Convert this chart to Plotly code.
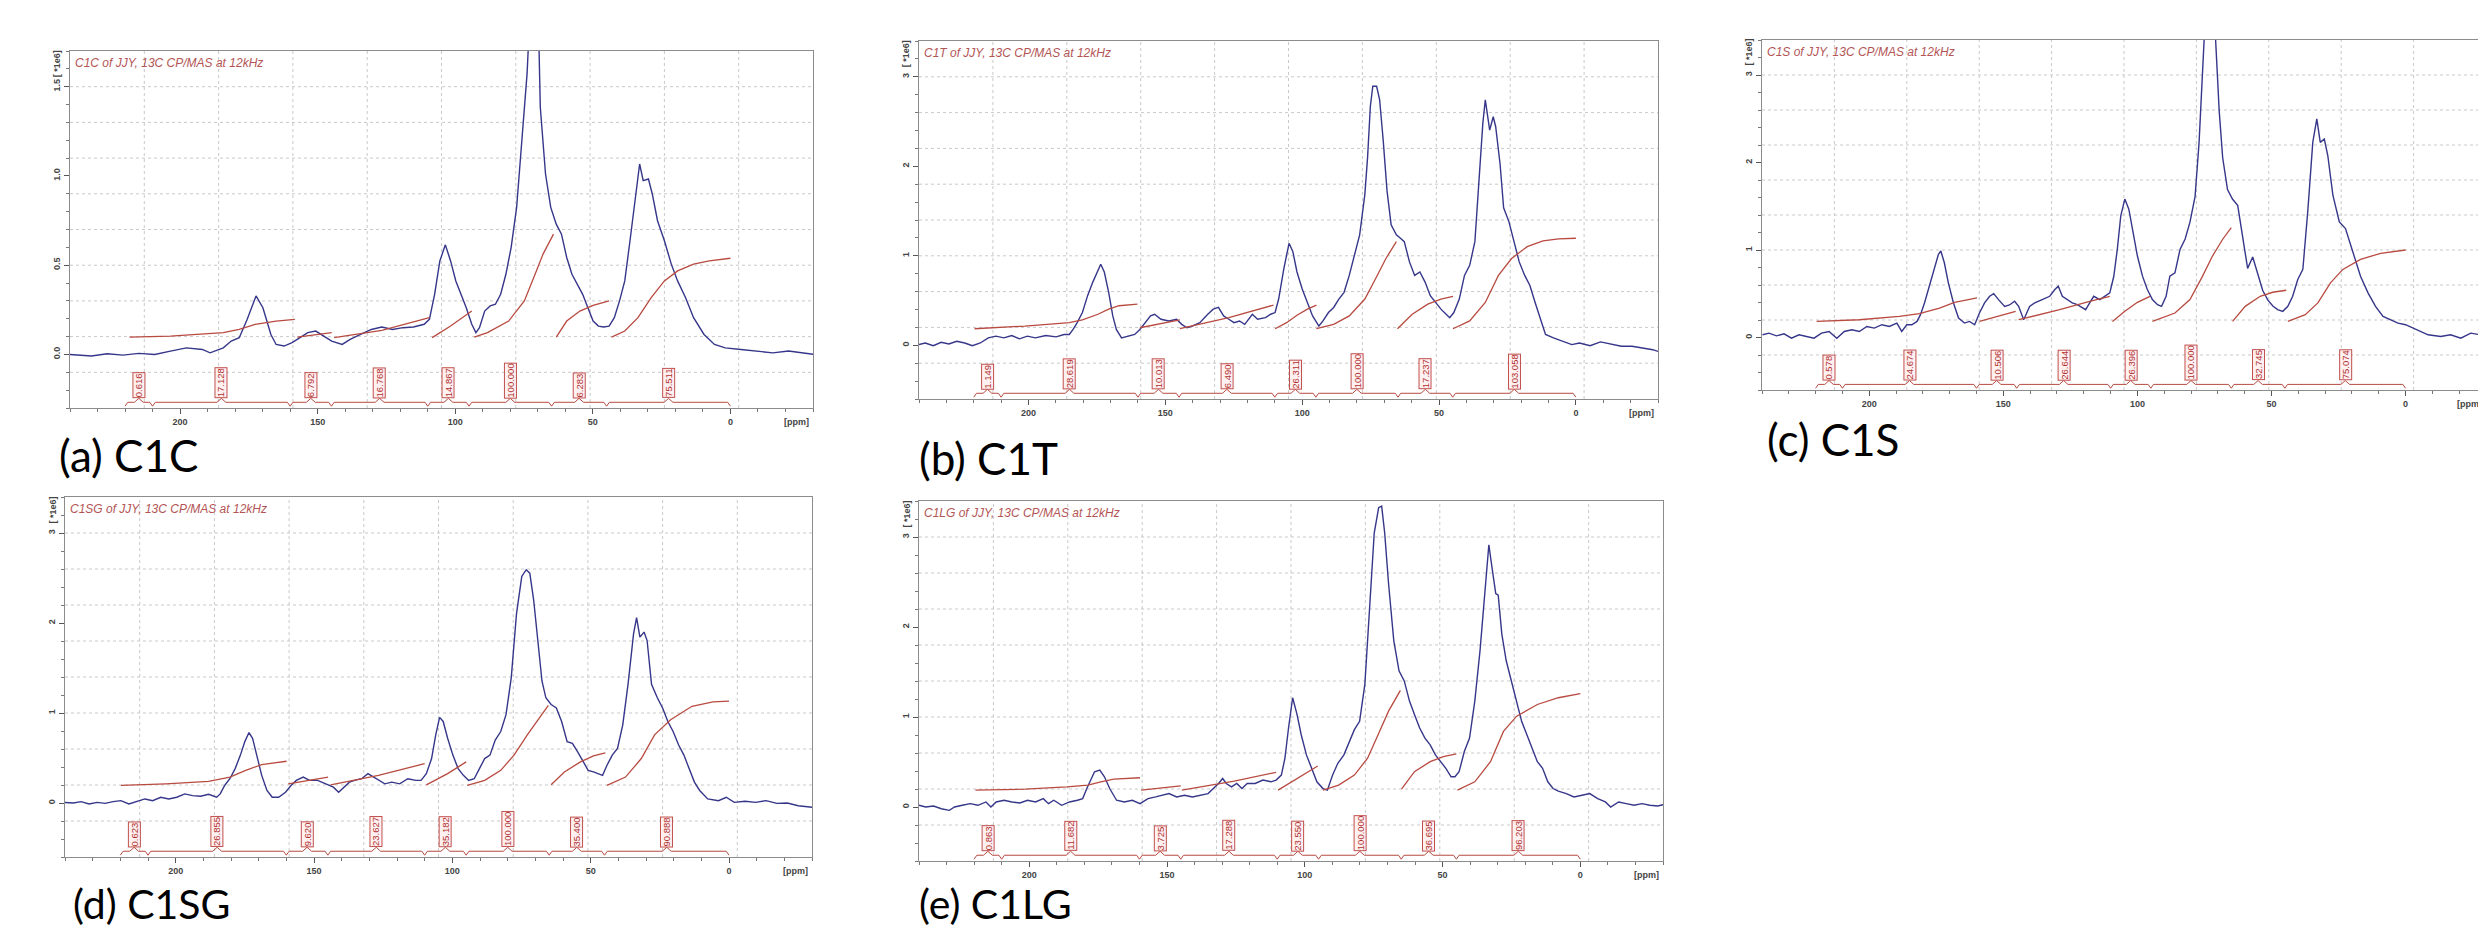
import plotly.graph_objects as go

W, H = 2486, 926
X_RANGE = [240, -30]
REGION_BOUNDS = [220, 210, 160, 145, 110, 95, 65, 45, 0]

# ---------------- (a) C1C ----------------
A_PPM = [240.0, 232.2, 226.5, 220.7, 215.0, 209.2, 203.5, 197.7, 191.9, 189.1, 184.3, 181.4, 178.5, 175.6, 172.4,
         169.9, 167.0, 165.1, 162.2, 159.3, 156.4, 153.6, 150.7, 147.8, 144.9, 141.1, 138.2, 134.4, 130.5, 126.7,
         122.8, 119.0, 115.2, 111.3, 109.4, 107.5, 105.6, 103.6, 101.7, 99.8, 97.9, 96.0, 94.0, 92.5, 91.2, 89.3,
         87.3, 85.4, 83.5, 81.6, 79.7, 77.7, 75.8, 73.9, 72.0, 70.1, 69.1, 67.2, 65.3, 63.3, 61.4, 59.5, 57.6, 55.7,
         53.7, 51.8, 49.9, 48.0, 46.1, 44.1, 42.2, 40.3, 38.4, 36.5, 34.5, 33.0, 31.7, 29.8, 28.4, 26.5, 24.0, 21.5,
         19.2, 16.3, 13.4, 9.6, 5.8, 1.9, -3.8, -9.6, -15.4, -21.1, -26.9, -30.7]
A_INT = [0.000, -0.009, 0.004, -0.004, 0.006, 0.000, 0.019, 0.037, 0.028, 0.009, 0.037, 0.075, 0.094, 0.197, 0.328,
         0.262, 0.112, 0.056, 0.047, 0.066, 0.094, 0.122, 0.131, 0.103, 0.075, 0.056, 0.084, 0.112, 0.140, 0.154,
         0.140, 0.150, 0.154, 0.169, 0.197, 0.337, 0.524, 0.614, 0.524, 0.412, 0.337, 0.262, 0.169, 0.122, 0.150,
         0.243, 0.272, 0.281, 0.337, 0.449, 0.599, 0.824, 1.199, 1.573, 2.200, 2.100, 1.386, 1.011, 0.824, 0.730,
         0.674, 0.543, 0.449, 0.393, 0.337, 0.262, 0.187, 0.159, 0.154, 0.159, 0.206, 0.300, 0.412, 0.637, 0.899,
         1.067, 0.974, 0.983, 0.899, 0.749, 0.637, 0.506, 0.412, 0.318, 0.206, 0.112, 0.056, 0.037, 0.028, 0.019,
         0.009, 0.019, 0.009, 0.000]
A_IG_PPM = [[218.4, 203.5, 184.3, 178.5, 172.7, 168.9, 165.1, 158.3],
            [157.4, 144.9],
            [144.0, 126.7, 109.4],
            [108.4, 101.7, 94.0],
            [93.1, 88.3, 80.6, 74.9, 71.0, 68.1, 64.3],
            [63.3, 59.5, 54.7, 49.9, 44.1],
            [43.2, 38.4, 33.6, 28.8, 24.0, 19.2, 13.4, 7.7, 0.0]]
A_IG_VAL = [[0.097, 0.103, 0.122, 0.140, 0.169, 0.178, 0.187, 0.197],
            [0.097, 0.122],
            [0.094, 0.135, 0.206],
            [0.094, 0.159, 0.243],
            [0.097, 0.122, 0.187, 0.300, 0.449, 0.562, 0.674],
            [0.097, 0.187, 0.243, 0.275, 0.300],
            [0.097, 0.131, 0.206, 0.318, 0.412, 0.468, 0.506, 0.524, 0.539]]
A_LABELS = ["0.616", "17.128", "6.792", "16.768", "14.867", "100.000", "6.283", "75.511"]

# ---------------- (b) C1T ----------------
B_PPM = [240.2, 237.7, 234.8, 231.9, 229.1, 226.2, 223.3, 220.5, 217.6, 214.7,
         211.9, 209.0, 206.1, 203.3, 200.4, 197.5, 193.7, 189.9, 187.0, 185.1,
         183.7, 182.2, 180.3, 178.4, 176.5, 175.0, 173.6, 172.3, 170.7, 169.2,
         167.9, 166.0, 163.1, 161.2, 159.3, 157.4, 155.4, 153.9, 151.6, 148.7,
         145.9, 144.0, 142.1, 140.2, 137.4, 134.5, 132.5, 130.6, 128.7, 126.8,
         124.9, 122.9, 121.0, 118.2, 116.3, 113.4, 111.5, 109.9, 108.6, 106.7,
         104.8, 103.4, 101.9, 100.0, 98.1, 96.2, 93.9, 92.4, 90.4, 88.5,
         86.6, 84.7, 82.8, 80.9, 79.0, 77.1, 76.1, 75.1, 74.2, 72.8,
         71.7, 70.4, 69.0, 67.5, 65.6, 64.1, 62.7, 60.8, 58.9, 57.0,
         55.1, 53.2, 51.2, 49.3, 47.4, 46.1, 44.6, 42.6, 40.7, 38.8,
         36.9, 35.4, 34.0, 33.1, 32.1, 31.5, 30.2, 29.3, 27.7, 26.4,
         24.5, 22.6, 20.7, 18.7, 16.8, 14.9, 13.0, 11.1, 8.2, 4.4,
         1.5, -1.3, -5.2, -9.0, -12.8, -16.6, -20.5, -24.3, -28.1, -30.0]
B_INT = [0.008, 0.026, -0.004, 0.034, 0.015, 0.045, 0.026, -0.004, 0.026, 0.083,
         0.102, 0.083, 0.109, 0.072, 0.102, 0.083, 0.109, 0.094, 0.121, 0.121,
         0.177, 0.253, 0.366, 0.555, 0.706, 0.819, 0.906, 0.819, 0.592, 0.328,
         0.177, 0.083, 0.102, 0.121, 0.177, 0.253, 0.328, 0.347, 0.291, 0.272,
         0.291, 0.234, 0.196, 0.215, 0.253, 0.347, 0.404, 0.423, 0.328, 0.291,
         0.253, 0.272, 0.234, 0.347, 0.291, 0.309, 0.347, 0.366, 0.517, 0.857,
         1.140, 1.045, 0.819, 0.630, 0.479, 0.328, 0.215, 0.272, 0.366, 0.423,
         0.517, 0.592, 0.781, 1.007, 1.234, 1.687, 2.102, 2.668, 2.894, 2.894,
         2.743, 2.291, 1.725, 1.347, 1.234, 1.196, 1.158, 0.932, 0.781, 0.819,
         0.706, 0.555, 0.479, 0.404, 0.347, 0.309, 0.366, 0.517, 0.781, 0.894,
         1.158, 1.913, 2.479, 2.743, 2.554, 2.404, 2.554, 2.442, 2.026, 1.536,
         1.385, 1.158, 0.932, 0.781, 0.668, 0.479, 0.291, 0.121, 0.083, 0.045,
         0.008, 0.026, -0.004, 0.038, 0.015, -0.011, -0.011, -0.030, -0.049, -0.068]
B_IG_PPM = [[219.7, 201.3, 185.1, 180.3, 174.6, 170.7, 166.9, 160.2],
            [159.3, 144.7],
            [144.7, 126.8, 110.5],
            [109.9, 105.7, 101.9, 98.1, 94.8],
            [94.8, 88.5, 82.8, 77.1, 73.2, 69.4, 65.6],
            [65.2, 59.8, 54.1, 49.3, 44.9],
            [44.9, 38.8, 33.1, 28.3, 23.5, 17.8, 12.0, 6.3, 0.0]]
B_IG_VAL = [[0.185, 0.215, 0.253, 0.283, 0.347, 0.404, 0.442, 0.460],
            [0.196, 0.283],
            [0.185, 0.309, 0.449],
            [0.185, 0.253, 0.336, 0.404, 0.449],
            [0.185, 0.234, 0.328, 0.517, 0.743, 0.970, 1.158],
            [0.185, 0.347, 0.460, 0.517, 0.547],
            [0.185, 0.272, 0.479, 0.781, 0.970, 1.102, 1.166, 1.189, 1.196]]
B_LABELS = ["1.149", "28.619", "10.013", "6.490", "26.311", "100.000", "17.237", "103.058"]

# ---------------- (c) C1S ----------------
C_PPM = [239.8, 237.4, 234.6, 231.8, 229.0, 226.2, 223.4, 220.6, 217.8, 215.0,
         212.1, 209.3, 206.5, 203.7, 200.9, 198.1, 195.3, 192.5, 189.7, 187.9,
         186.0, 184.1, 182.2, 180.9, 179.4, 177.6, 175.7, 174.2, 173.3, 172.0,
         170.5, 168.6, 166.7, 164.5, 162.6, 160.7, 158.9, 157.0, 155.1, 153.6,
         151.8, 149.5, 147.7, 145.8, 144.3, 142.4, 140.2, 138.3, 135.5, 132.7,
         130.8, 129.5, 128.0, 126.2, 124.3, 122.4, 120.6, 119.3, 117.8, 116.3,
         114.0, 112.1, 110.3, 108.8, 107.5, 106.2, 104.7, 103.2, 101.9, 100.0,
         98.1, 96.3, 94.4, 92.5, 91.0, 89.3, 87.9, 86.0, 84.1, 82.2,
         80.4, 78.5, 77.0, 75.7, 74.8, 72.9, 71.0, 69.5, 68.2, 66.4,
         64.5, 62.6, 60.7, 58.9, 57.0, 55.1, 53.3, 51.4, 49.5, 47.7,
         45.8, 43.9, 42.1, 40.2, 38.3, 36.4, 34.6, 33.1, 31.8, 30.3,
         29.0, 27.1, 24.7, 22.4, 19.6, 16.8, 14.0, 11.2, 8.4, 5.6,
         2.8, 0.0, -2.8, -5.6, -8.4, -13.1, -16.8, -20.6, -24.3, -28.0, -30.5]
C_INT = [0.031, 0.050, 0.019, 0.042, -0.008, 0.031, 0.011, -0.008, 0.050, 0.069,
         -0.008, 0.069, 0.088, 0.069, 0.126, 0.107, 0.146, 0.126, 0.165, 0.069,
         0.146, 0.146, 0.184, 0.261, 0.395, 0.587, 0.816, 0.950, 0.989, 0.854,
         0.625, 0.395, 0.222, 0.165, 0.184, 0.146, 0.280, 0.395, 0.471, 0.502,
         0.433, 0.356, 0.372, 0.414, 0.356, 0.203, 0.356, 0.395, 0.433, 0.471,
         0.548, 0.587, 0.471, 0.433, 0.395, 0.375, 0.337, 0.318, 0.395, 0.471,
         0.433, 0.471, 0.510, 0.700, 1.007, 1.391, 1.582, 1.467, 1.236, 0.931,
         0.701, 0.548, 0.433, 0.375, 0.356, 0.471, 0.701, 0.739, 1.007, 1.126,
         1.318, 1.609, 2.230, 3.200, 3.600, 3.800, 3.500, 2.590, 2.054, 1.690,
         1.580, 1.510, 1.130, 0.790, 0.920, 0.730, 0.540, 0.430, 0.360, 0.318,
         0.299, 0.356, 0.471, 0.663, 0.778, 1.467, 2.230, 2.498, 2.230, 2.268,
         2.080, 1.628, 1.320, 1.245, 0.970, 0.700, 0.510, 0.356, 0.241, 0.203,
         0.165, 0.146, 0.107, 0.069, 0.031, 0.011, 0.031, -0.008, 0.050, 0.031, 0.050]
C_IG_PPM = [[219.6, 203.7, 188.8, 181.3, 173.8, 168.2, 159.8],
            [158.9, 145.4],
            [144.3, 129.0, 117.8, 110.3],
            [109.3, 104.7, 100.0, 95.3],
            [94.4, 86.0, 80.4, 75.7, 72.0, 68.2, 65.0],
            [64.5, 59.8, 54.2, 49.5, 44.5],
            [43.9, 37.4, 32.7, 28.0, 23.4, 16.8, 9.3, 0.0]]
C_IG_VAL = [[0.184, 0.203, 0.241, 0.272, 0.337, 0.402, 0.452],
            [0.184, 0.299],
            [0.203, 0.318, 0.414, 0.471],
            [0.184, 0.299, 0.402, 0.471],
            [0.184, 0.280, 0.433, 0.701, 0.931, 1.123, 1.257],
            [0.184, 0.356, 0.471, 0.517, 0.540],
            [0.184, 0.261, 0.395, 0.625, 0.778, 0.893, 0.962, 1.000]]
C_LABELS = ["0.578", "24.674", "10.506", "26.644", "26.396", "100.000", "32.745", "75.074"]

# ---------------- (d) C1SG ----------------
D_PPM = [240.3, 237.0, 234.2, 231.3, 228.4, 225.5, 222.6, 219.8, 216.9, 214.0,
         211.1, 208.3, 205.4, 202.5, 199.6, 196.7, 193.9, 191.0, 188.1, 185.2,
         183.9, 182.3, 180.4, 178.5, 176.6, 175.0, 173.5, 172.2, 170.8, 168.9,
         167.0, 165.1, 162.8, 160.3, 158.3, 156.4, 153.9, 151.6, 148.7, 145.9,
         143.0, 141.1, 139.2, 137.2, 135.3, 132.8, 130.5, 128.6, 126.7, 124.4,
         121.9, 119.0, 116.1, 113.2, 111.3, 109.4, 107.5, 106.0, 104.6, 103.3,
         101.7, 99.8, 97.9, 96.0, 94.1, 92.1, 90.2, 88.3, 86.4, 84.5,
         82.5, 80.6, 78.7, 76.8, 74.9, 73.3, 72.0, 70.6, 69.1, 67.6,
         66.2, 64.3, 62.4, 60.5, 58.5, 56.6, 54.7, 52.8, 50.9, 49.0,
         47.0, 45.7, 44.1, 42.2, 40.3, 38.4, 36.5, 34.5, 33.4, 32.2,
         30.7, 29.6, 28.0, 25.9, 24.0, 22.1, 20.2, 18.2, 16.3, 14.4,
         12.5, 10.6, 7.7, 3.8, 1.0, -1.9, -5.8, -9.6, -13.4, -17.3,
         -21.1, -25.0, -27.8, -30.3]
D_INT = [0.007, 0.000, 0.015, -0.011, 0.007, -0.004, 0.015, 0.026, -0.011, 0.015,
         0.045, 0.026, 0.064, 0.045, 0.064, 0.101, 0.082, 0.075, 0.097, 0.064,
         0.101, 0.195, 0.270, 0.382, 0.532, 0.682, 0.783, 0.719, 0.532, 0.307,
         0.139, 0.064, 0.064, 0.120, 0.195, 0.251, 0.288, 0.251, 0.251, 0.213,
         0.176, 0.120, 0.176, 0.232, 0.251, 0.270, 0.326, 0.288, 0.251, 0.213,
         0.232, 0.213, 0.270, 0.251, 0.251, 0.326, 0.494, 0.757, 0.951, 0.906,
         0.719, 0.532, 0.382, 0.307, 0.251, 0.270, 0.382, 0.494, 0.532, 0.700,
         0.794, 0.981, 1.393, 2.105, 2.517, 2.592, 2.554, 2.255, 1.805, 1.356,
         1.169, 1.094, 1.056, 0.906, 0.682, 0.663, 0.569, 0.457, 0.363, 0.345,
         0.326, 0.307, 0.419, 0.532, 0.607, 0.869, 1.318, 1.880, 2.060, 1.843,
         1.899, 1.805, 1.318, 1.169, 1.056, 0.906, 0.794, 0.644, 0.532, 0.382,
         0.232, 0.139, 0.045, 0.026, 0.064, 0.007, 0.019, 0.007, 0.026, -0.004,
         0.000, -0.030, -0.037, -0.049]
D_IG_PPM = [[219.8, 203.5, 188.1, 180.4, 174.7, 168.9, 159.9],
            [159.3, 144.9],
            [144.0, 126.7, 110.0],
            [109.4, 101.7, 95.0],
            [94.6, 88.3, 82.5, 77.7, 72.9, 69.1, 65.3],
            [64.3, 59.5, 53.7, 49.0, 44.7],
            [44.1, 37.4, 31.7, 26.9, 21.1, 13.4, 5.8, 0.0]]
D_IG_VAL = [[0.195, 0.213, 0.240, 0.288, 0.363, 0.427, 0.464],
            [0.213, 0.288],
            [0.202, 0.307, 0.438],
            [0.202, 0.326, 0.457],
            [0.195, 0.251, 0.363, 0.532, 0.757, 0.925, 1.086],
            [0.202, 0.345, 0.457, 0.524, 0.558],
            [0.195, 0.288, 0.494, 0.757, 0.925, 1.075, 1.124, 1.131]]
D_LABELS = ["0.623", "26.855", "9.620", "23.627", "35.182", "100.000", "35.400", "90.888"]

# ---------------- (e) C1LG ----------------
E_PPM = [240.0, 237.6, 234.7, 231.9, 229.0, 227.1, 224.3, 221.4, 218.6, 215.7,
         213.9, 212.0, 209.1, 206.3, 203.4, 200.6, 197.7, 194.9, 193.0, 191.1,
         188.2, 185.4, 182.5, 180.6, 179.1, 177.8, 176.3, 174.4, 172.7, 170.8,
         168.3, 165.5, 162.6, 159.8, 156.9, 154.1, 151.2, 149.3, 146.5, 143.6,
         140.8, 138.0, 135.1, 133.2, 131.3, 129.8, 128.5, 126.6, 124.7, 122.8,
         120.9, 118.0, 115.2, 112.3, 110.4, 108.5, 107.2, 105.9, 104.4, 102.8,
         101.3, 99.4, 97.5, 95.6, 93.4, 91.8, 89.9, 88.0, 85.8, 83.9,
         82.0, 80.1, 78.2, 76.3, 74.8, 73.2, 72.1, 71.0, 69.6, 67.7,
         65.8, 63.9, 62.0, 60.2, 58.3, 56.4, 54.5, 52.6, 50.7, 48.8,
         46.9, 45.5, 44.0, 42.1, 40.2, 38.3, 36.4, 34.5, 33.2, 32.1,
         30.7, 29.8, 28.5, 26.9, 25.0, 23.1, 21.3, 19.4, 17.5, 15.6,
         13.7, 11.8, 9.9, 8.0, 5.1, 2.3, -0.6, -3.4, -6.3, -9.1,
         -11.0, -13.9, -16.7, -19.5, -22.4, -25.2, -28.1, -30.0]
E_INT = [0.019, 0.000, 0.011, -0.019, -0.037, 0.000, 0.019, 0.037, 0.019, 0.056,
         0.000, 0.056, 0.075, 0.056, 0.045, 0.075, 0.056, 0.093, 0.037, 0.075,
         0.019, 0.056, 0.075, 0.093, 0.205, 0.299, 0.392, 0.411, 0.336, 0.205,
         0.075, 0.056, 0.075, 0.037, 0.093, 0.112, 0.131, 0.149, 0.112, 0.131,
         0.112, 0.131, 0.149, 0.205, 0.261, 0.317, 0.261, 0.224, 0.261, 0.205,
         0.261, 0.261, 0.299, 0.280, 0.299, 0.355, 0.542, 0.878, 1.214, 1.027,
         0.803, 0.579, 0.430, 0.280, 0.205, 0.187, 0.355, 0.486, 0.579, 0.728,
         0.859, 0.952, 1.363, 2.297, 3.044, 3.325, 3.344, 3.044, 2.484, 1.849,
         1.513, 1.401, 1.177, 1.027, 0.878, 0.766, 0.691, 0.579, 0.504, 0.430,
         0.336, 0.336, 0.392, 0.616, 0.766, 1.177, 1.737, 2.484, 2.914, 2.671,
         2.372, 2.353, 1.924, 1.625, 1.401, 1.177, 0.952, 0.803, 0.654, 0.504,
         0.430, 0.280, 0.205, 0.176, 0.149, 0.112, 0.131, 0.149, 0.093, 0.056,
         0.000, 0.056, 0.037, 0.019, 0.037, 0.019, 0.011, 0.026]
E_IG_PPM = [[219.5, 201.5, 186.3, 178.7, 174.0, 169.3, 159.8],
            [159.4, 145.0],
            [144.6, 125.6, 110.4],
            [109.7, 102.8, 95.3],
            [93.4, 87.7, 82.0, 77.2, 73.4, 69.6, 65.3],
            [64.9, 60.2, 54.5, 49.7, 45.0],
            [44.6, 38.3, 32.6, 27.9, 23.1, 15.6, 8.0, 0.0]]
E_IG_VAL = [[0.187, 0.198, 0.224, 0.243, 0.280, 0.310, 0.325],
            [0.187, 0.235],
            [0.187, 0.288, 0.385],
            [0.187, 0.318, 0.456],
            [0.187, 0.243, 0.355, 0.542, 0.803, 1.065, 1.296],
            [0.198, 0.392, 0.504, 0.560, 0.590],
            [0.187, 0.280, 0.504, 0.840, 1.009, 1.139, 1.214, 1.259]]
E_LABELS = ["0.863", "11.682", "3.725", "17.288", "23.550", "100.000", "36.695", "96.203"]

PANELS = [
    dict(title="C1C of JJY, 13C CP/MAS at 12kHz", label="(a) C1C", box=(62, 805, 43, 400), lab=(50, 447, 44),
         yrange=[-0.3, 1.7], ytv=[0, 0.5, 1.0, 1.5], ytt=["0.0", "0.5", "1.0", "1.5"], ymaj=0.5,
         ppm=A_PPM, val=A_INT, igp=A_IG_PPM, igv=A_IG_VAL, labels=A_LABELS),
    dict(title="C1T of JJY, 13C CP/MAS at 12kHz", label="(b) C1T", box=(911, 1650, 33, 391), lab=(910, 450, 44),
         yrange=[-0.6, 3.4], ytv=[0, 1, 2, 3], ytt=["0", "1", "2", "3"], ymaj=1.0,
         ppm=B_PPM, val=B_INT, igp=B_IG_PPM, igv=B_IG_VAL, labels=B_LABELS),
    dict(title="C1S of JJY, 13C CP/MAS at 12kHz", label="(c) C1S", box=(1754, 2478, 32, 382), lab=(1758, 431, 44),
         yrange=[-0.6, 3.4], ytv=[0, 1, 2, 3], ytt=["0", "1", "2", "3"], ymaj=1.0,
         ppm=C_PPM, val=C_INT, igp=C_IG_PPM, igv=C_IG_VAL, labels=C_LABELS),
    dict(title="C1SG of JJY, 13C CP/MAS at 12kHz", label="(d) C1SG", box=(57, 804, 489, 849), lab=(64, 895, 41),
         yrange=[-0.6, 3.4], ytv=[0, 1, 2, 3], ytt=["0", "1", "2", "3"], ymaj=1.0,
         ppm=D_PPM, val=D_INT, igp=D_IG_PPM, igv=D_IG_VAL, labels=D_LABELS),
    dict(title="C1LG of JJY, 13C CP/MAS at 12kHz", label="(e) C1LG", box=(911, 1655, 493, 853), lab=(910, 895, 41),
         yrange=[-0.6, 3.4], ytv=[0, 1, 2, 3], ytt=["0", "1", "2", "3"], ymaj=1.0,
         ppm=E_PPM, val=E_INT, igp=E_IG_PPM, igv=E_IG_VAL, labels=E_LABELS),
]

SPEC_COLOR = "#36368a"
INTEG_COLOR = "#b84a40"
LABEL_RED = "#b03030"
GRID_COLOR = "#c9c9c9"
TICK_FONT = dict(family="Liberation Sans, Arial, sans-serif", size=9, color="#444444", weight="bold")

fig = go.Figure()
shapes = []
annotations = []
layout_axes = {}

for i, p in enumerate(PANELS):
    n = "" if i == 0 else str(i + 1)
    xn, yn = "x" + n, "y" + n
    x0, x1, y0, y1 = p["box"]
    ymin, ymax = p["yrange"]
    span = ymax - ymin

    # spectrum
    fig.add_trace(go.Scatter(x=p["ppm"], y=p["val"], mode="lines", xaxis=xn, yaxis=yn,
                             line=dict(color=SPEC_COLOR, width=1.4), showlegend=False, hoverinfo="skip"))
    # integral curves
    ix, iy = [], []
    for sp, sv in zip(p["igp"], p["igv"]):
        ix += list(sp) + [None]
        iy += list(sv) + [None]
    fig.add_trace(go.Scatter(x=ix, y=iy, mode="lines", xaxis=xn, yaxis=yn,
                             line=dict(color=INTEG_COLOR, width=1.3), showlegend=False, hoverinfo="skip"))
    # integration brackets
    yb = ymin + 0.016 * span
    d = 0.011 * span
    bx, by = [], []
    centers = []
    for a, b in zip(REGION_BOUNDS[:-1], REGION_BOUNDS[1:]):
        c = (a + b) / 2
        centers.append(c)
        bx += [a, a - 1.0, c + 1.6, c, c - 1.6, b + 1.0, b, None]
        by += [yb - d, yb, yb, yb + d, yb, yb, yb - d, None]
    fig.add_trace(go.Scatter(x=bx, y=by, mode="lines", xaxis=xn, yaxis=yn,
                             line=dict(color=INTEG_COLOR, width=1), showlegend=False, hoverinfo="skip"))
    for c, t in zip(centers, p["labels"]):
        annotations.append(dict(x=c, y=yb + d, xref=xn, yref=yn, text=t, textangle=-90, showarrow=False,
                                xanchor="center", yanchor="bottom", borderpad=0, borderwidth=1,
                                bordercolor="#c0504d", bgcolor="rgba(255,240,240,0.9)",
                                font=dict(family="Liberation Sans, Arial, sans-serif", size=9.5, color=LABEL_RED)))

    # grid lines (dotted, 10 divisions of each range)
    for k in range(1, 10):
        xv = X_RANGE[0] + k * (X_RANGE[1] - X_RANGE[0]) / 10
        shapes.append(dict(type="line", xref=xn, yref=yn + " domain", x0=xv, x1=xv, y0=0, y1=1,
                           line=dict(color=GRID_COLOR, width=1, dash="dot"), layer="below"))
        yv = ymin + k * span / 10
        shapes.append(dict(type="line", xref=xn + " domain", yref=yn, x0=0, x1=1, y0=yv, y1=yv,
                           line=dict(color=GRID_COLOR, width=1, dash="dot"), layer="below"))

    xdom = [x0 / W, x1 / W]
    ydom = [1 - y1 / H, 1 - y0 / H]
    layout_axes["xaxis" + n] = dict(domain=xdom, range=X_RANGE, anchor=yn, showline=True, linecolor="#8c8c8c",
                                    linewidth=1, mirror=True, ticks="outside", ticklen=5, tickcolor="#555555",
                                    tickvals=[200, 150, 100, 50, 0], tickfont=TICK_FONT, showgrid=False,
                                    zeroline=False, fixedrange=True,
                                    minor=dict(dtick=10, ticks="outside", ticklen=3, tickcolor="#777777"))
    layout_axes["yaxis" + n] = dict(domain=ydom, range=p["yrange"], anchor=xn, showline=True, linecolor="#8c8c8c",
                                    linewidth=1, mirror=True, ticks="outside", ticklen=5, tickcolor="#555555",
                                    tickvals=p["ytv"], ticktext=p["ytt"], tickangle=-90,
                                    tickfont=dict(family="Liberation Sans, Arial, sans-serif", size=9,
                                                  color="#444444", weight="bold"),
                                    showgrid=False, zeroline=False, fixedrange=True,
                                    minor=dict(dtick=p["ymaj"] / 5, ticks="outside", ticklen=3, tickcolor="#777777"))

    # texts
    annotations.append(dict(x=0.004, y=0.992, xref=xn + " domain", yref=yn + " domain", text=p["title"],
                            showarrow=False, xanchor="left", yanchor="top",
                            font=dict(family="Liberation Sans Narrow, Liberation Sans, Arial", size=12,
                                      color="#b35555", style="italic")))
    annotations.append(dict(x=-24, y=0, xref=xn, yref=yn + " domain", text="[ppm]", showarrow=False,
                            xanchor="center", yanchor="top", yshift=-7,
                            font=dict(family="Liberation Sans, Arial", size=9, color="#444444", weight="bold")))
    annotations.append(dict(x=0, y=p["ytv"][-1], xref=xn + " domain", yref=yn, text="[ *1e6]", showarrow=False,
                            textangle=-90, xanchor="center", yanchor="bottom", xshift=-13, yshift=7,
                            font=dict(family="Liberation Sans, Arial", size=9, color="#444444", weight="bold")))
    lx, ly, lsize = p["lab"]
    annotations.append(dict(x=lx / W, y=1 - ly / H, xref="paper", yref="paper", text=p["label"],
                            showarrow=False, xanchor="left", yanchor="middle", borderpad=0,
                            font=dict(family="Lato, Noto Sans, sans-serif", size=lsize, color="#000000")))

fig.update_layout(width=W, height=H, margin=dict(l=0, r=0, t=0, b=0), paper_bgcolor="white",
                  plot_bgcolor="white", showlegend=False, shapes=shapes, annotations=annotations,
                  **layout_axes)

fig.write_html("out.html")
